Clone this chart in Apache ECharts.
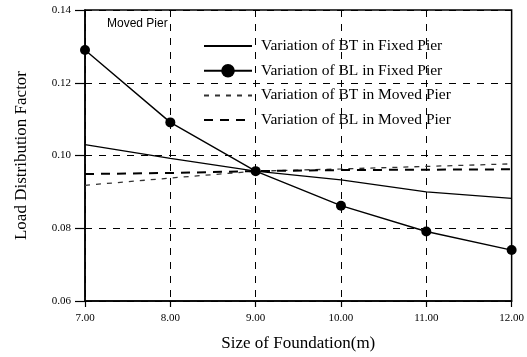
<!DOCTYPE html>
<html>
<head>
<meta charset="utf-8">
<script src="https://cdn.jsdelivr.net/npm/echarts@6/dist/echarts.min.js"></script>
<style>html,body{margin:0;padding:0;background:#fff;}#c{width:527px;height:357px;}</style>
</head>
<body>
<div id="c"></div>
<script>
var sizes = [7, 8, 9, 10, 11, 12];
var btFixed = [0.1030, 0.0992, 0.0957, 0.0933, 0.0900, 0.0882];
var blFixed = [0.1290, 0.1091, 0.0957, 0.0862, 0.0791, 0.0740];
var btMoved = [0.0918, 0.0938, 0.0957, 0.0963, 0.0970, 0.0977];
var blMoved = [0.0949, 0.0952, 0.0957, 0.0960, 0.0961, 0.0962];
var seriesNames = ['Variation of BT in Fixed Pier', 'Variation of BL in Fixed Pier', 'Variation of BT in Moved Pier', 'Variation of BL in Moved Pier'];

function pairs(v){ return sizes.map(function(x,i){ return [x, v[i]]; }); }
var serif = 'Liberation Serif';
var hidden = {opacity: 0};
var chart = echarts.init(document.getElementById('c'));
chart.setOption({
  animation: false,
  backgroundColor: '#fff',
  grid: {left: 85, right: 14, top: 10, bottom: 56, show: true, borderColor: '#000', borderWidth: 1.5},
  legend: {
    orient: 'vertical', left: 198, top: 33, itemWidth: 48, itemHeight: 17, itemGap: 8.7,
    textStyle: {fontFamily: serif, fontSize: 15.5, color: '#000', padding: [0, 0, 0, 4]},
    data: [
      {name: seriesNames[0], itemStyle: hidden},
      {name: seriesNames[1]},
      {name: seriesNames[2], itemStyle: hidden},
      {name: seriesNames[3], itemStyle: hidden}
    ]
  },
  graphic: [{type: 'text', left: 107, top: 18, style: {text: 'Moved Pier', font: '12px "Liberation Sans"', fill: '#000'}}],
  xAxis: {
    type: 'value', min: 7, max: 12, interval: 1,
    name: 'Size of Foundation(m)', nameLocation: 'middle', nameGap: 34,
    nameTextStyle: {fontFamily: serif, fontSize: 17, color: '#000'},
    axisLine: {lineStyle: {color: '#000', width: 1.5}},
    axisTick: {show: true, length: 6, inside: false, lineStyle: {color: '#000', width: 1.2}},
    axisLabel: {fontFamily: serif, fontSize: 11, color: '#000', margin: 12, formatter: function(v){return v.toFixed(2);}},
    splitLine: {show: true, lineStyle: {color: '#000', type: [7, 7], width: 1}}
  },
  yAxis: {
    type: 'value', min: 0.06, max: 0.14, interval: 0.02,
    name: 'Load Distribution Factor', nameLocation: 'middle', nameGap: 55,
    nameTextStyle: {fontFamily: serif, fontSize: 17, color: '#000'},
    axisLine: {show: true, lineStyle: {color: '#000', width: 1.5}},
    axisTick: {show: true, length: 10, lineStyle: {color: '#000', width: 1.2}},
    axisLabel: {fontFamily: serif, fontSize: 11, color: '#000', margin: 14, formatter: function(v){return v.toFixed(2);}},
    splitLine: {show: true, lineStyle: {color: '#000', type: [7, 7], width: 1}}
  },
  series: [
    {name: seriesNames[0], type: 'line', data: pairs(btFixed), symbol: 'none',
     lineStyle: {color: '#000', width: 1.4}, itemStyle: {color: '#000'}},
    {name: seriesNames[1], type: 'line', data: pairs(blFixed), symbol: 'circle', symbolSize: 10,
     lineStyle: {color: '#000', width: 1.4}, itemStyle: {color: '#000'}},
    {name: seriesNames[2], type: 'line', data: pairs(btMoved), symbol: 'none',
     lineStyle: {color: '#333', width: 1.3, type: [5, 6]}, itemStyle: {color: '#333'}},
    {name: seriesNames[3], type: 'line', data: pairs(blMoved), symbol: 'none',
     lineStyle: {color: '#000', width: 2, type: [9, 7]}, itemStyle: {color: '#000'}}
  ]
});
</script>
</body>
</html>
